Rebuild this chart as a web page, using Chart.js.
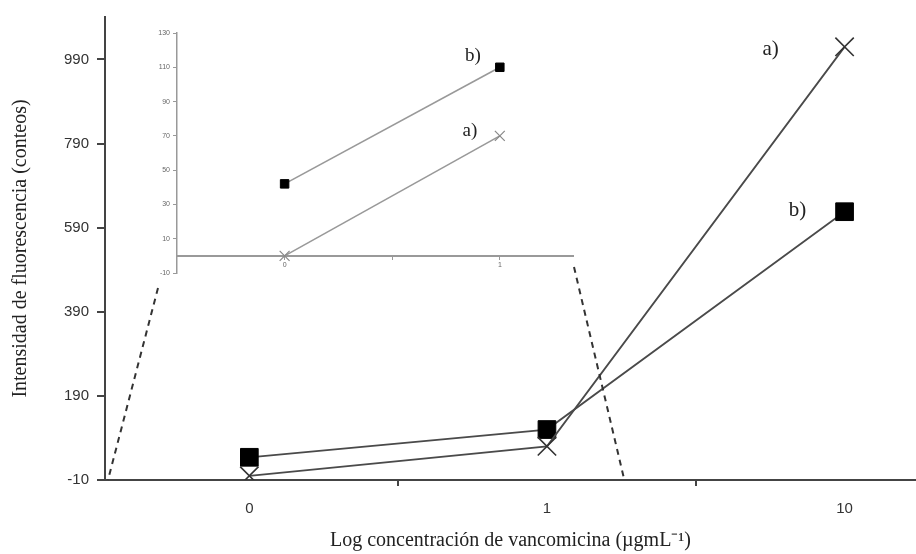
<!DOCTYPE html>
<html>
<head>
<meta charset="utf-8">
<script src="https://cdn.jsdelivr.net/npm/chart.js@4/dist/chart.umd.min.js"></script>
<style>
  body { margin: 0; background: #fff; overflow: hidden; }
  #wrap { position: relative; width: 916px; height: 554px; }
  #insetChart { position: absolute; left: 130px; top: 20px; }
</style>
</head>
<body>
<div id="wrap">
  <canvas id="mainChart" width="916" height="554"></canvas>
  <canvas id="insetChart" width="460" height="270"></canvas>
</div>
<script>
// datos del grafico principal
const categories = ['0', '1', '10'];
const seriesA = [0, 70, 1020];     // a) cruces
const seriesB = [44, 110, 628];    // b) cuadrados
const yTicks = [-10, 190, 390, 590, 790, 990];

// datos del recuadro (zoom)
const insetCategories = ['0', '1'];
const insetA = [0, 70];
const insetB = [42, 110];
const insetYTicks = [-10, 10, 30, 50, 70, 90, 110, 130];

const toXY = arr => arr.map((v, i) => ({ x: i, y: v }));

// etiquetas a) b) y lineas punteadas
const annotate = {
  id: 'annotate',
  afterDatasetsDraw(chart, args, opts) {
    const ctx = chart.ctx;
    ctx.save();
    if (opts.connectors) {
      const xs = chart.scales.x, ys = chart.scales.y;
      ctx.strokeStyle = '#333';
      ctx.lineWidth = 2;
      ctx.setLineDash([6, 5]);
      opts.connectors.forEach(c => {
        ctx.beginPath();
        ctx.moveTo(c.top[0], c.top[1]);
        ctx.lineTo(xs.getPixelForValue(c.x), ys.getPixelForValue(ys.min));
        ctx.stroke();
      });
      ctx.setLineDash([]);
    }
    ctx.font = opts.font;
    ctx.fillStyle = '#222';
    ctx.textAlign = 'center';
    ctx.textBaseline = 'middle';
    opts.labels.forEach(l => {
      const pt = chart.getDatasetMeta(l.ds).data[l.idx];
      ctx.fillText(l.text, pt.x + l.dx, pt.y + l.dy);
    });
    ctx.restore();
  }
};

// sin relleno lateral para las etiquetas del eje x
const noSidePad = s => { s.paddingLeft = 0; s.paddingRight = 0; };

Chart.defaults.animation = false;

new Chart(document.getElementById('mainChart'), {
  type: 'line',
  data: {
    datasets: [
      {
        label: 'a)',
        data: toXY(seriesA),
        borderColor: '#4a4a4a',
        borderWidth: 1.8,
        pointStyle: 'crossRot',
        pointRadius: 13,
        pointBorderColor: '#333',
        pointBorderWidth: 1.6,
        tension: 0
      },
      {
        label: 'b)',
        data: toXY(seriesB),
        borderColor: '#4a4a4a',
        borderWidth: 1.8,
        pointStyle: 'rect',
        pointRadius: 12.5,
        pointBackgroundColor: '#000',
        pointBorderColor: '#000',
        pointBorderWidth: 1,
        tension: 0
      }
    ]
  },
  options: {
    responsive: false,
    layout: { autoPadding: false, padding: { top: 12, right: 0, left: 0, bottom: 0 } },
    plugins: {
      legend: { display: false },
      tooltip: { enabled: false },
      annotate: {
        font: '21px "Liberation Serif"',
        labels: [
          { ds: 0, idx: 2, text: 'a)', dx: -74, dy: 3 },
          { ds: 1, idx: 2, text: 'b)', dx: -47, dy: -1 }
        ],
        connectors: [
          { top: [158, 288], x: -0.475 },
          { top: [574, 267], x: 1.26 }
        ]
      }
    },
    scales: {
      x: {
        type: 'linear',
        min: -0.485,
        max: 2.24,
        afterBuildTicks: s => { s.ticks = [0, 0.5, 1, 1.5, 2].map(v => ({ value: v })); },
        afterFit: s => { s.height = 74; noSidePad(s); },
        border: { color: '#444', width: 2 },
        grid: {
          drawOnChartArea: false,
          tickLength: 6,
          tickColor: c => Number.isInteger(c.tick.value) ? 'rgba(0,0,0,0)' : '#444',
          lineWidth: 2
        },
        ticks: {
          padding: 14,
          color: '#333',
          font: { family: 'Liberation Sans', size: 15 },
          maxRotation: 0,
          callback: v => Number.isInteger(v) ? categories[v] : ''
        },
        title: {
          display: true,
          text: 'Log concentración de vancomicina (µgmL⁻¹)',
          color: '#222',
          font: { family: 'Liberation Serif', size: 20 },
          padding: { top: 4, bottom: 1 }
        }
      },
      y: {
        type: 'linear',
        min: -10,
        max: 1091,
        afterBuildTicks: s => { s.ticks = yTicks.map(v => ({ value: v })); },
        afterFit: s => { s.width = 105; },
        border: { color: '#444', width: 2 },
        grid: { drawOnChartArea: false, tickLength: 8, tickColor: '#444', lineWidth: 2 },
        ticks: {
          padding: 8,
          color: '#333',
          font: { family: 'Liberation Sans', size: 15 }
        },
        title: {
          display: true,
          text: 'Intensidad de fluorescencia (conteos)',
          color: '#222',
          font: { family: 'Liberation Serif', size: 20 },
          padding: { top: 9, bottom: 0 }
        }
      }
    }
  },
  plugins: [annotate]
});

new Chart(document.getElementById('insetChart'), {
  type: 'line',
  data: {
    datasets: [
      {
        label: 'a)',
        data: toXY(insetA),
        borderColor: '#999',
        borderWidth: 1.6,
        pointStyle: 'crossRot',
        pointRadius: 7,
        pointBorderColor: '#888',
        pointBorderWidth: 1.2,
        tension: 0
      },
      {
        label: 'b)',
        data: toXY(insetB),
        borderColor: '#999',
        borderWidth: 1.6,
        pointStyle: 'rect',
        pointRadius: 6,
        pointBackgroundColor: '#000',
        pointBorderColor: '#000',
        pointBorderWidth: 1,
        tension: 0
      }
    ]
  },
  options: {
    responsive: false,
    layout: { autoPadding: false, padding: { top: 13, right: 17, left: 0, bottom: 17 } },
    plugins: {
      legend: { display: false },
      tooltip: { enabled: false },
      annotate: {
        font: '19px "Liberation Serif"',
        labels: [
          { ds: 1, idx: 1, text: 'b)', dx: -27, dy: -11 },
          { ds: 0, idx: 1, text: 'a)', dx: -30, dy: -5 }
        ]
      }
    },
    scales: {
      x: {
        type: 'linear',
        position: { y: 0 },
        min: -0.5,
        max: 1.34,
        afterBuildTicks: s => { s.ticks = [0, 0.5, 1].map(v => ({ value: v })); },
        afterFit: noSidePad,
        border: { color: '#999', width: 2 },
        grid: { drawOnChartArea: false, tickLength: 3, tickColor: '#999' },
        ticks: {
          padding: 2,
          color: '#666',
          font: { family: 'Liberation Sans', size: 7 },
          maxRotation: 0,
          callback: v => Number.isInteger(v) ? insetCategories[v] : ''
        }
      },
      y: {
        type: 'linear',
        min: -10,
        max: 130,
        afterBuildTicks: s => { s.ticks = insetYTicks.map(v => ({ value: v })); },
        afterFit: s => { s.width = 47; },
        border: { color: '#999', width: 1.5 },
        grid: { drawOnChartArea: false, tickLength: 4, tickColor: '#999' },
        ticks: {
          padding: 3,
          color: '#666',
          font: { family: 'Liberation Sans', size: 7 }
        }
      }
    }
  },
  plugins: [annotate]
});
</script>
</body>
</html>
